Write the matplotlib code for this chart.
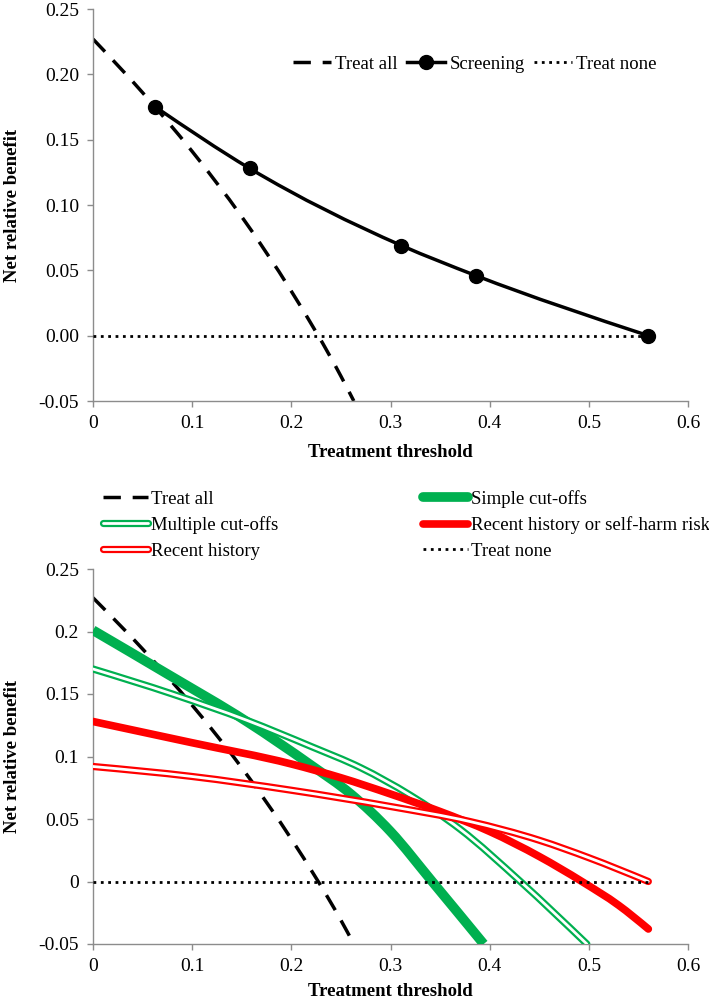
import numpy as np
import matplotlib.pyplot as plt
from matplotlib.path import Path
from matplotlib.patches import PathPatch
from matplotlib.lines import Line2D
from matplotlib.legend_handler import HandlerTuple

plt.rcParams['font.family'] = ['Liberation Serif', 'DejaVu Serif']

# --- data ---
# top panel
treat_all_t = [0, 0.05, 0.10, 0.15, 0.20, 0.25, 0.263]
treat_all_nb = [0.227, 0.186, 0.141, 0.091, 0.034, -0.031, -0.050]
screen_t = [0.063, 0.158, 0.311, 0.386, 0.560]
screen_nb = [0.175, 0.128, 0.069, 0.046, 0.000]
none_t = [0, 0.56]
none_nb = [0, 0]

# bottom panel
simple_t = [0, 0.075, 0.155, 0.22, 0.26, 0.30, 0.342, 0.394]
simple_nb = [0.201, 0.166, 0.128, 0.093, 0.070, 0.040, 0.0, -0.05]
multi_t = [0, 0.08, 0.155, 0.22, 0.27, 0.32, 0.37, 0.431, 0.498]
multi_nb = [0.170, 0.150, 0.129, 0.108, 0.091, 0.069, 0.042, 0.0, -0.05]
rh_or_t = [0, 0.1, 0.2, 0.25, 0.3, 0.35, 0.4, 0.45, 0.493, 0.53, 0.56]
rh_or_nb = [0.128, 0.111, 0.094, 0.083, 0.070, 0.056, 0.040, 0.020, 0.0, -0.019, -0.038]
rh_t = [0, 0.1, 0.2, 0.3, 0.38, 0.45, 0.5, 0.56]
rh_nb = [0.092, 0.084, 0.073, 0.060, 0.048, 0.033, 0.019, 0.0]

x_ticks = [0, 0.1, 0.2, 0.3, 0.4, 0.5, 0.6]
x_ticklabels = ['0', '0.1', '0.2', '0.3', '0.4', '0.5', '0.6']
y_ticks = [-0.05, 0, 0.05, 0.10, 0.15, 0.20, 0.25]
y_labels_top = ['-0.05', '0.00', '0.05', '0.10', '0.15', '0.20', '0.25']
y_labels_bot = ['-0.05', '0', '0.05', '0.1', '0.15', '0.2', '0.25']

GREEN = '#00B050'
RED = '#FF0000'
FS = 13.5
TICK_FS = 14
DASH = (0, (5, 3.4))


def smooth_path(x, y):
    # smoothed line through the points (cubic hermite -> bezier segments)
    x = np.asarray(x, float)
    y = np.asarray(y, float)
    h = np.diff(x)
    d = np.diff(y) / h
    m = np.empty_like(x)
    if len(x) > 2:
        m[1:-1] = (h[1:] * d[:-1] + h[:-1] * d[1:]) / (h[:-1] + h[1:])
        m[0] = (3 * d[0] - m[1]) / 2
        m[-1] = (3 * d[-1] - m[-2]) / 2
    else:
        m[:] = d[0]
    verts = [(x[0], y[0])]
    codes = [Path.MOVETO]
    for i in range(len(x) - 1):
        verts += [(x[i] + h[i] / 3, y[i] + m[i] * h[i] / 3),
                  (x[i + 1] - h[i] / 3, y[i + 1] - m[i + 1] * h[i] / 3),
                  (x[i + 1], y[i + 1])]
        codes += [Path.CURVE4] * 3
    return Path(verts, codes)


def draw(ax, x, y, **kw):
    ax.add_patch(PathPatch(smooth_path(x, y), fill=False, **kw))


def draw_double(ax, x, y, color, zorder):
    draw(ax, x, y, edgecolor=color, lw=5.2, capstyle='round', joinstyle='round', zorder=zorder)
    draw(ax, x, y, edgecolor='white', lw=2.0, capstyle='round', joinstyle='round', zorder=zorder)


def style_axes(ax, ylabels):
    ax.set_xlim(0, 0.6)
    ax.set_ylim(-0.05, 0.25)
    for s in ['top', 'right']:
        ax.spines[s].set_visible(False)
    for s in ['left', 'bottom']:
        ax.spines[s].set_color('#8c8c8c')
        ax.spines[s].set_linewidth(1.0)
    ax.set_xticks(x_ticks)
    ax.set_xticklabels(x_ticklabels)
    ax.set_yticks(y_ticks)
    ax.set_yticklabels(ylabels)
    ax.tick_params(direction='out', length=4, width=1.0, color='#8c8c8c',
                   labelsize=TICK_FS, pad=6)
    ax.set_ylabel('Net relative benefit', fontsize=FS, fontweight='bold', labelpad=13)


fig = plt.figure(figsize=(7.09, 10.01), dpi=100)
ax1 = fig.add_axes([93 / 709, 1 - 401 / 1001, (688 - 93) / 709, (401 - 9) / 1001])
ax2 = fig.add_axes([93 / 709, 1 - 944 / 1001, (688 - 93) / 709, (944 - 569) / 1001])

# --- top panel ---
draw(ax1, treat_all_t, treat_all_nb, edgecolor='black', lw=2.5, linestyle=DASH, zorder=2)
draw(ax1, screen_t, screen_nb, edgecolor='black', lw=2.5, zorder=3)
ax1.plot(screen_t, screen_nb, 'o', color='black', ms=10, zorder=5)
ax1.plot(none_t, none_nb, color='black', lw=2, linestyle=':', zorder=4)
style_axes(ax1, y_labels_top)
ax1.set_xlabel('Treatment threshold', fontsize=FS, fontweight='bold', labelpad=9)

top_handles = [
    Line2D([], [], color='black', lw=2.5, linestyle=DASH),
    Line2D([], [], color='black', lw=2.5, marker='o', ms=10),
    Line2D([], [], color='black', lw=2, linestyle=':'),
]
fig.legend(top_handles, ['Treat all', 'Screening', 'Treat none'],
           loc='center left', bbox_to_anchor=(293 / 709, 1 - 64 / 1001), ncol=3,
           frameon=False, fontsize=FS, handlelength=2.0, handletextpad=0.25,
           columnspacing=0.5, borderpad=0, borderaxespad=0)

# --- bottom panel ---
draw(ax2, treat_all_t, treat_all_nb, edgecolor='black', lw=2.5, linestyle=DASH, zorder=2)
draw(ax2, simple_t, simple_nb, edgecolor=GREEN, lw=7, capstyle='butt', zorder=3)
draw_double(ax2, multi_t, multi_nb, GREEN, 4)
draw(ax2, rh_or_t, rh_or_nb, edgecolor=RED, lw=5.5, capstyle='round', zorder=5)
draw_double(ax2, rh_t, rh_nb, RED, 6)
ax2.plot(none_t, none_nb, color='black', lw=2, linestyle=':', zorder=7)
style_axes(ax2, y_labels_bot)
ax2.set_xlabel('Treatment threshold', fontsize=FS, fontweight='bold', labelpad=6)


def double_handle(color):
    return (Line2D([], [], color=color, lw=5.2, solid_capstyle='round'),
            Line2D([], [], color='white', lw=2.0, solid_capstyle='round'))


col1 = [Line2D([], [], color='black', lw=2.5, linestyle=DASH),
        double_handle(GREEN), double_handle(RED)]
col2 = [Line2D([], [], color=GREEN, lw=7, solid_capstyle='round'),
        Line2D([], [], color=RED, lw=5.5, solid_capstyle='round'),
        Line2D([], [], color='black', lw=2, linestyle=':')]
leg_kw = dict(loc='center left', frameon=False, fontsize=FS, handlelength=2.4,
              handletextpad=0.15, labelspacing=0.45, borderpad=0, borderaxespad=0,
              handler_map={tuple: HandlerTuple(ndivide=1)})
fig.legend(col1, ['Treat all', 'Multiple cut-offs', 'Recent history'],
           bbox_to_anchor=(103 / 709, 1 - 525 / 1001), **leg_kw)
fig.legend(col2, ['Simple cut-offs', 'Recent history or self-harm risk', 'Treat none'],
           bbox_to_anchor=(423 / 709, 1 - 525 / 1001), **leg_kw)

fig.savefig('out.png', dpi=100)
